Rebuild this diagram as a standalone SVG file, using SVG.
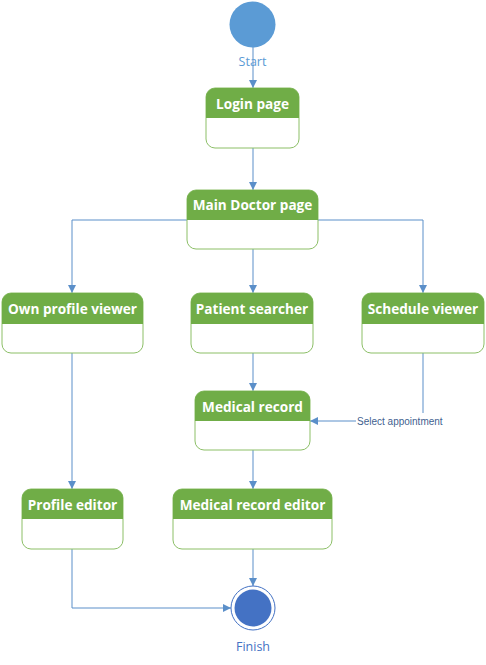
<svg xmlns="http://www.w3.org/2000/svg" width="486" height="665" viewBox="0 0 486 665">
<defs>
<style>
.box{fill:#ffffff;stroke:#8cbf67;stroke-width:1}
.hdr{fill:#70ad47}
.ttl{font-family:"Open Sans","Noto Sans",sans-serif;font-weight:bold;font-size:13.6px;fill:#ffffff;text-anchor:middle}
.ln{fill:none;stroke:#5b8fc9;stroke-width:1}
.lbl{font-family:"Open Sans","Noto Sans",sans-serif;font-size:12.5px;fill:#5b9bd5;text-anchor:middle}
.sm{font-family:"Liberation Sans",Arial,sans-serif;font-size:10px;fill:#3f5f8f}
</style>
<marker id="ah" viewBox="0 0 10 10" refX="10" refY="5" markerWidth="8" markerHeight="8" markerUnits="userSpaceOnUse" orient="auto">
<path d="M0,0 L10,5 L0,10 z" fill="#5b8fc9"/>
</marker>
</defs>
<rect width="486" height="665" fill="#ffffff"/>

<g id="connectors">
<path class="ln" d="M253,47 V88" marker-end="url(#ah)"/>
<path class="ln" d="M253,148 V190" marker-end="url(#ah)"/>
<path class="ln" d="M187,220 H72 V293" marker-end="url(#ah)"/>
<path class="ln" d="M318,220 H423 V293" marker-end="url(#ah)"/>
<path class="ln" d="M253,249 V293" marker-end="url(#ah)"/>
<path class="ln" d="M72,353 V489" marker-end="url(#ah)"/>
<path class="ln" d="M253,353 V391" marker-end="url(#ah)"/>
<path class="ln" d="M423,353 V421 H310" marker-end="url(#ah)"/>
<rect x="356" y="413" width="90" height="14" fill="#ffffff"/>
<text class="sm" x="357" y="424.5">Select appointment</text>
<path class="ln" d="M253,450 V489" marker-end="url(#ah)"/>
<path class="ln" d="M72,549 V608 H231" marker-end="url(#ah)"/>
<path class="ln" d="M253,549 V586" marker-end="url(#ah)"/>
</g>

<g id="start">
<circle cx="252.5" cy="24.5" r="23" fill="#5b9bd5"/>
<text class="lbl" x="252.5" y="66">Start</text>
</g>

<g id="login">
<rect class="box" x="206" y="88" width="93" height="60" rx="9"/>
<path class="hdr" d="M206,118 V97 A9,9 0 0 1 215,88 H290 A9,9 0 0 1 299,97 V118 z"/>
<text class="ttl" x="252.5" y="108.5">Login page</text>
</g>

<g id="main">
<rect class="box" x="187" y="190" width="131" height="59" rx="9"/>
<path class="hdr" d="M187,220 V199 A9,9 0 0 1 196,190 H309 A9,9 0 0 1 318,199 V220 z"/>
<text class="ttl" x="252.5" y="210">Main Doctor page</text>
</g>

<g id="ownprofile">
<rect class="box" x="2" y="293" width="141" height="60" rx="9"/>
<path class="hdr" d="M2,324 V302 A9,9 0 0 1 11,293 H134 A9,9 0 0 1 143,302 V324 z"/>
<text class="ttl" x="72.5" y="314">Own profile viewer</text>
</g>

<g id="patient">
<rect class="box" x="191" y="293" width="122" height="60" rx="9"/>
<path class="hdr" d="M191,324 V302 A9,9 0 0 1 200,293 H304 A9,9 0 0 1 313,302 V324 z"/>
<text class="ttl" x="252" y="314">Patient searcher</text>
</g>

<g id="schedule">
<rect class="box" x="362" y="293" width="122" height="60" rx="9"/>
<path class="hdr" d="M362,324 V302 A9,9 0 0 1 371,293 H475 A9,9 0 0 1 484,302 V324 z"/>
<text class="ttl" x="423" y="314">Schedule viewer</text>
</g>

<g id="medrecord">
<rect class="box" x="195" y="391" width="115" height="59" rx="9"/>
<path class="hdr" d="M195,421 V400 A9,9 0 0 1 204,391 H301 A9,9 0 0 1 310,400 V421 z"/>
<text class="ttl" x="252.5" y="411.5">Medical record</text>
</g>

<g id="profileeditor">
<rect class="box" x="22" y="489" width="101" height="60" rx="9"/>
<path class="hdr" d="M22,519 V498 A9,9 0 0 1 31,489 H114 A9,9 0 0 1 123,498 V519 z"/>
<text class="ttl" x="72.5" y="509.5">Profile editor</text>
</g>

<g id="medrecordeditor">
<rect class="box" x="173" y="489" width="159" height="60" rx="9"/>
<path class="hdr" d="M173,519 V498 A9,9 0 0 1 182,489 H323 A9,9 0 0 1 332,498 V519 z"/>
<text class="ttl" x="252.5" y="509.5">Medical record editor</text>
</g>

<g id="finish">
<circle cx="253" cy="608" r="22" fill="#ffffff" stroke="#4472c4" stroke-width="1"/>
<circle cx="253" cy="608" r="18.5" fill="#4472c4"/>
<text class="lbl" x="253" y="651" style="fill:#4472c4">Finish</text>
</g>
</svg>
